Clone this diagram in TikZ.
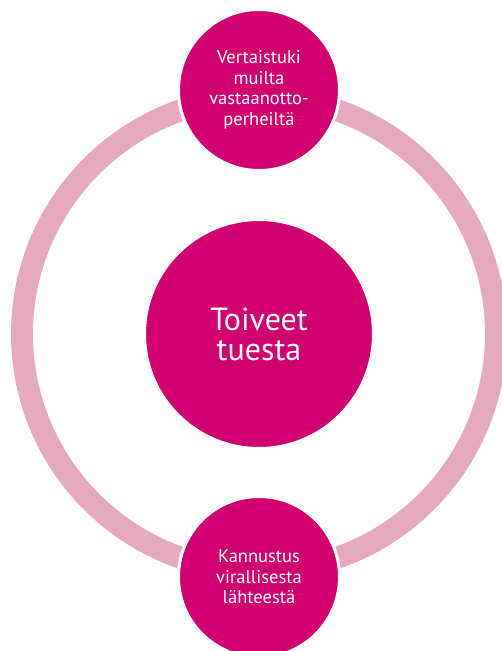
\documentclass[tikz,border=0pt]{standalone}
\usepackage{fontspec}
\setmainfont{PT Sans}
\usetikzlibrary{positioning}
\definecolor{ringpink}{HTML}{E6AABF}
\definecolor{deepmagenta}{HTML}{D0006F}
\newcommand\bubblefont{\fontsize{18.5}{20.5}\selectfont}

\begin{document}
\begin{tikzpicture}[x=1pt, y=-1pt,
    bubble/.style={circle, fill=deepmagenta, draw=white, line width=3pt, text=white,
        align=center, inner sep=0pt, minimum size=#1}]
    \useasboundingbox (0,0) rectangle (501,651);
    % 外圈
    \draw[ringpink, line width=22pt] (259,334) circle[radius=237pt];
    \node[bubble=229pt, font=\fontsize{32}{30}\selectfont] (hub) at (259,334) {Toiveet\\tuesta};
    \node[bubble=161pt, font=\bubblefont] (peer) at (259,90) {Vertaistuki\\muilta\\vastaanotto-\\perheiltä};
    \node[bubble=161pt, font=\bubblefont] (official) at (259,577) {Kannustus\\virallisesta\\lähteestä};
\end{tikzpicture}
\end{document}
